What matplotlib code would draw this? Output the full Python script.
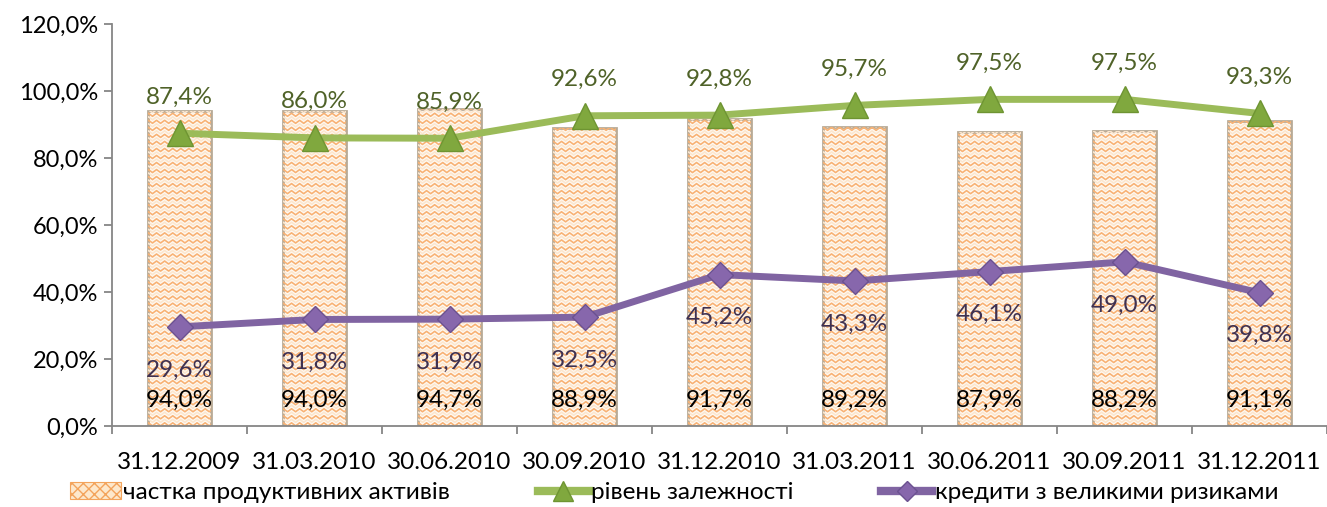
import numpy as np
import matplotlib
matplotlib.use("Agg")
import matplotlib.pyplot as plt
from matplotlib.patches import Patch
from matplotlib.lines import Line2D
from matplotlib.collections import LineCollection

plt.rcParams['font.family'] = ['Lato', 'DejaVu Sans']

categories = ["31.12.2009", "31.03.2010", "30.06.2010", "30.09.2010", "31.12.2010",
              "31.03.2011", "30.06.2011", "30.09.2011", "31.12.2011"]
productive_assets = [94.0, 94.0, 94.7, 88.9, 91.7, 89.2, 87.9, 88.2, 91.1]
dependency_level = [87.4, 86.0, 85.9, 92.6, 92.8, 95.7, 97.5, 97.5, 93.3]
risky_loans = [29.6, 31.8, 31.9, 32.5, 45.2, 43.3, 46.1, 49.0, 39.8]
series_names = ["частка продуктивних активів", "рівень залежності", "кредити з великими ризиками"]
yticks = [0, 20, 40, 60, 80, 100, 120]

def fmt(v):
    return f"{v:.1f}%".replace(".", ",")

fig = plt.figure(figsize=(13.27, 5.07), dpi=100)
ax = fig.add_axes([112/1327, 81/507, 1 - 112/1327, (426-24)/507])

x = np.arange(len(categories))
bw = 0.46
bars = ax.bar(x, productive_assets, width=bw, facecolor='#FFFAF3', edgecolor='#B8AA96',
              linewidth=2.0, zorder=2)

# zigzag texture inside each bar, clipped to the bar
for b in bars:
    x0, w, h = b.get_x(), b.get_width(), b.get_height()
    period = 0.06
    xs = np.arange(x0 - period, x0 + w + period, period / 2)
    segs, cols = [], []
    k = 0
    for y0 in np.arange(0.5, h + 2, 1.05):
        amp = 0.45
        ys = y0 + amp * np.where(np.arange(len(xs)) % 2 == 0, 1, -1)
        segs.append(np.column_stack([xs, ys]))
        cols.append('#F8B275' if k % 2 == 0 else '#FCE6CE')
        k += 1
    lc = LineCollection(segs, colors=cols, linewidths=1.2, zorder=2.1)
    ax.add_collection(lc)
    lc.set_clip_path(b)

ax.plot(x, dependency_level, color='#9BBB59', lw=5, marker='^', markersize=19,
        markerfacecolor='#80A83E', markeredgecolor='#6E9432', markeredgewidth=1, zorder=4,
        solid_capstyle='round')
ax.plot(x, risky_loans, color='#8064A2', lw=5, marker='D', markersize=13,
        markerfacecolor='#8767AC', markeredgecolor='#6B5190', markeredgewidth=1, zorder=4,
        solid_capstyle='round')

fs = 17.5
for xi, v in zip(x, productive_assets):
    ax.text(xi, 7.8, fmt(v), ha='center', va='center', fontsize=fs, color='black', zorder=5)
for xi, v in zip(x, dependency_level):
    ax.annotate(fmt(v), (xi, v), xytext=(0, 26), textcoords='offset points',
                ha='center', va='center', fontsize=fs, color='#4F6228', zorder=5)
for xi, v in zip(x, risky_loans):
    ax.annotate(fmt(v), (xi, v), xytext=(0, -31), textcoords='offset points',
                ha='center', va='center', fontsize=fs, color='#3F3151', zorder=5)

ax.set_xlim(-0.5, len(categories) - 0.5)
ax.set_ylim(0, 120)
ax.set_yticks(yticks)
ax.set_yticklabels([fmt(v) for v in yticks], fontsize=17)
ax.set_xticks(x)
ax.set_xticklabels(categories, fontsize=fs)
ax.set_xticks(np.arange(-0.5, len(categories), 1.0), minor=True)
ax.tick_params(axis='x', which='major', length=0, pad=19)
ax.tick_params(axis='x', which='minor', length=6, color='#868686', width=1.3, direction='out')
ax.tick_params(axis='y', length=6, color='#868686', width=1.3, direction='out', pad=4)
for s in ['top', 'right']:
    ax.spines[s].set_visible(False)
for s in ['left', 'bottom']:
    ax.spines[s].set_color('#868686')
    ax.spines[s].set_linewidth(1.3)

handles = [
    Patch(facecolor='#FDE8CC', edgecolor='#F3A45C', hatch='xxx', linewidth=0.8),
    Line2D([], [], color='#9BBB59', lw=6, marker='^', markersize=15,
           markerfacecolor='#80A83E', markeredgecolor='#6E9432'),
    Line2D([], [], color='#8064A2', lw=6, marker='D', markersize=10,
           markerfacecolor='#8767AC', markeredgecolor='#6B5190'),
]
fig.legend(handles, series_names, loc='center', bbox_to_anchor=(0.508, 0.028), ncol=3,
           frameon=False, fontsize=fs, handlelength=2.1, handletextpad=0.1,
           columnspacing=3.6, borderaxespad=0)

fig.savefig("out.png", dpi=100)
